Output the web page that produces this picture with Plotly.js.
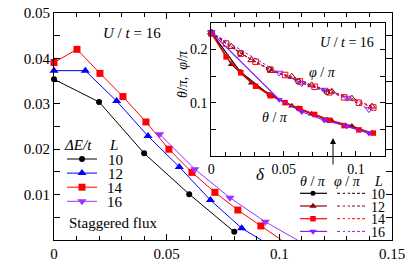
<!DOCTYPE html>
<html>
<head>
<meta charset="utf-8">
<script src="https://cdn.plot.ly/plotly-3.0.1.min.js"></script>
</head>
<body style="margin:0">
<div id="chart" style="width:412px;height:278px"></div>
<script>
// ---------- data: main panel (ΔE/t vs δ) ----------
const sizesL = [10, 12, 14, 16];
const mainDelta10 = [0, 0.02, 0.04, 0.06, 0.08];
const mainDE10    = [0.0354, 0.0304, 0.0191, 0.0101, 0.0018];
const mainDelta12 = [0, 0.0139, 0.0278, 0.0417, 0.0556, 0.0694, 0.0833];
const mainDE12    = [0.0373, 0.0373, 0.0306, 0.0229, 0.0161, 0.0088, 0.0026];
const mainDelta14 = [0, 0.0102, 0.0204, 0.0306, 0.0408, 0.0510, 0.0612, 0.0714, 0.0816, 0.0918];
const mainDE14    = [0.0391, 0.0420, 0.0367, 0.0316, 0.0260, 0.0200, 0.0149, 0.0105, 0.0066, 0.0031];
const mainDelta16 = [0.0469, 0.0625, 0.0781, 0.0938];
const mainDE16    = [0.0233, 0.0156, 0.0093, 0.0040];
// extrapolated zero crossing of the guide lines (null = none)
const zeroCross   = [null, 0.092, 0.101, 0.108];

// ---------- data: inset (θ/π and φ/π vs δ) ----------
const inDelta10 = [0, 0.02, 0.04, 0.06, 0.08];
const theta10   = [0.232, 0.158, 0.115, 0.0895, 0.068];
const phi10     = [0.232, 0.193, 0.163, 0.140, 0.120];
const inDelta12 = [0, 0.0139, 0.0278, 0.0417, 0.0556, 0.0694, 0.0833, 0.0972, 0.111];
const theta12   = [0.232, 0.172, 0.137, 0.114, 0.094, 0.079, 0.066, 0.056, 0.043];
const phi12     = [0.232, 0.205, 0.180, 0.160, 0.149, 0.133, 0.121, 0.108, 0.093];
const inDelta14 = [0, 0.0102, 0.0204, 0.0306, 0.0408, 0.0510, 0.0612, 0.0714, 0.0816, 0.0918, 0.102, 0.112];
const theta14   = [0.230, 0.186, 0.156, 0.131, 0.113, 0.100, 0.089, 0.078, 0.067, 0.057, 0.049, 0.043];
const phi14     = [0.230, 0.211, 0.192, 0.177, 0.162, 0.152, 0.140, 0.130, 0.1195, 0.110, 0.100, 0.091];
const inDelta16 = [0, 0.0469, 0.0625, 0.0781, 0.0938, 0.109];
const theta16   = [0.232, 0.106, 0.083, 0.067, 0.056, 0.0425];
const phi16     = [0.232, 0.156, 0.1365, 0.124, 0.109, 0.0876];

// ---------- styles ----------
const FONT = 'Liberation Serif';
const mainColors  = ['#000000', '#0000ff', '#ff0000', '#9933ff'];
const insetColors = ['#000000', '#8b0000', '#ff0000', '#8c1aff'];
const symbols     = ['circle', 'triangle-up', 'square', 'triangle-down'];
const openSymbols = ['circle-open', 'triangle-up-open', 'square-open', 'triangle-down-open'];
const mainSizes   = [6, 8, 7, 8];
const insetSizes  = [5, 6.5, 5.5, 6.5];

const mainX = [mainDelta10, mainDelta12, mainDelta14, mainDelta16];
const mainY = [mainDE10, mainDE12, mainDE14, mainDE16];
const inX   = [inDelta10, inDelta12, inDelta14, inDelta16];
const thY   = [theta10, theta12, theta14, theta16];
const phY   = [phi10, phi12, phi14, phi16];

const traces = [];
for (let i = 0; i < 4; i++) {
  if (zeroCross[i] !== null) {
    const n = mainX[i].length;
    traces.push({x: [mainX[i][n-1], zeroCross[i]], y: [mainY[i][n-1], 0], mode: 'lines',
      line: {color: mainColors[i], width: 1}, xaxis: 'x', yaxis: 'y', showlegend: false, hoverinfo: 'skip'});
  }
  traces.push({x: mainX[i], y: mainY[i], mode: 'lines+markers', xaxis: 'x', yaxis: 'y',
    line: {color: mainColors[i], width: 1},
    marker: {symbol: symbols[i], size: mainSizes[i], color: mainColors[i]},
    showlegend: false, cliponaxis: false});
}
for (let i = 0; i < 4; i++) {
  traces.push({x: inX[i], y: phY[i], mode: 'lines+markers', xaxis: 'x2', yaxis: 'y2',
    line: {color: insetColors[i], width: 1, dash: '3px,2px'},
    marker: {symbol: openSymbols[i], size: insetSizes[i], color: insetColors[i], line: {width: 1, color: insetColors[i]}},
    showlegend: false, cliponaxis: false});
}
for (let i = 0; i < 4; i++) {
  traces.push({x: inX[i], y: thY[i], mode: 'lines+markers', xaxis: 'x2', yaxis: 'y2',
    line: {color: insetColors[i], width: 1.2},
    marker: {symbol: symbols[i], size: insetSizes[i], color: insetColors[i]},
    showlegend: false, cliponaxis: false});
}

const annotations = [];
const txt = (x, y, text, size, extra) => Object.assign({xref: 'x3', yref: 'y3', x: x, y: y, text: text,
  showarrow: false, font: {family: FONT, size: size, color: '#000000'}}, extra || {});

// main legend
const mLeg = {x0: 67, x1: 97, xm: 82, xl: 115, y0: 159, dy: 14.1};
annotations.push(txt(78, 145, '<i>ΔE/t</i>', 15));
annotations.push(txt(113, 145, '<i>L</i>', 15));
for (let i = 0; i < 4; i++) {
  const y = mLeg.y0 + mLeg.dy * i;
  traces.push({x: [mLeg.x0, mLeg.x1], y: [y, y], mode: 'lines', xaxis: 'x3', yaxis: 'y3',
    line: {color: mainColors[i], width: 1}, showlegend: false, hoverinfo: 'skip', cliponaxis: false});
  traces.push({x: [mLeg.xm], y: [y], mode: 'markers', xaxis: 'x3', yaxis: 'y3',
    marker: {symbol: symbols[i], size: mainSizes[i], color: mainColors[i]}, showlegend: false, hoverinfo: 'skip', cliponaxis: false});
  annotations.push(txt(mLeg.xl, y + 1, String(sizesL[i]), 15));
}
annotations.push(txt(113, 223, 'Staggered flux', 15));

// inset legend
const iLeg = {s0: 300, s1: 327, sm: 313, d0: 337, d1: 366, dm: 345, xl: 378, y0: 193.3, dy: 12.7};
annotations.push(txt(313, 181, '<i>θ</i> / <i>π</i>', 14));
annotations.push(txt(347, 181, '<i>φ</i> / <i>π</i>', 14));
annotations.push(txt(378, 181, '<i>L</i>', 14));
for (let i = 0; i < 4; i++) {
  const y = iLeg.y0 + iLeg.dy * i;
  traces.push({x: [iLeg.s0, iLeg.s1], y: [y, y], mode: 'lines', xaxis: 'x3', yaxis: 'y3',
    line: {color: insetColors[i], width: 1.2}, showlegend: false, hoverinfo: 'skip', cliponaxis: false});
  traces.push({x: [iLeg.sm], y: [y], mode: 'markers', xaxis: 'x3', yaxis: 'y3',
    marker: {symbol: symbols[i], size: insetSizes[i], color: insetColors[i]}, showlegend: false, hoverinfo: 'skip', cliponaxis: false});
  traces.push({x: [iLeg.d0, iLeg.d1], y: [y, y], mode: 'lines', xaxis: 'x3', yaxis: 'y3',
    line: {color: insetColors[i], width: 1, dash: '3px,2px'}, showlegend: false, hoverinfo: 'skip', cliponaxis: false});
  traces.push({x: [iLeg.dm], y: [y], mode: 'markers', xaxis: 'x3', yaxis: 'y3',
    marker: {symbol: openSymbols[i], size: insetSizes[i], color: '#ffffff', line: {width: 1, color: insetColors[i]}},
    showlegend: false, hoverinfo: 'skip', cliponaxis: false});
  annotations.push(txt(iLeg.xl, y + 1, String(sizesL[i]), 14));
}

annotations.push(txt(13, 118, '<i>ΔE</i> / <i>t</i>', 15, {textangle: -90}));
annotations.push(txt(222, 265, '<i>δ</i>', 17));
annotations.push(txt(132, 33, '<i>U</i> / <i>t</i> = 16', 15));
annotations.push(txt(347, 42, '<i>U</i> / <i>t</i> = 16', 14));
annotations.push(txt(322, 72, '<i>φ</i> / <i>π</i>', 14));
annotations.push(txt(275, 117, '<i>θ</i> / <i>π</i>', 14));
annotations.push(txt(182, 74, '<i>θ</i>/<i>π</i>,  <i>φ</i>/<i>π</i>', 14, {textangle: -90}));
annotations.push(txt(260, 174, '<i>δ</i>', 17));
annotations.push({xref: 'x3', yref: 'y3', x: 333, y: 138, ax: 0, ay: 28, text: '', showarrow: true,
  arrowhead: 2, arrowsize: 1.2, arrowwidth: 1, arrowcolor: '#000000'});

function axis(extra) {
  return Object.assign({showline: true, linecolor: '#000000', linewidth: 1, mirror: 'ticks', ticks: 'inside',
    tickcolor: '#000000', showgrid: false, zeroline: false,
    tickfont: {family: FONT, size: 15, color: '#000000'}}, extra);
}

const layout = {
  width: 412, height: 278,
  margin: {l: 54, r: 20, t: 13, b: 38, pad: 0},
  paper_bgcolor: '#ffffff', plot_bgcolor: 'rgba(0,0,0,0)',
  showlegend: false,
  xaxis: axis({range: [0, 0.15], tickvals: [0, 0.05, 0.1, 0.15], ticktext: ['0', '0.05', '0.1', '0.15'],
    ticklen: 6, minor: {dtick: 0.01, ticklen: 4, ticks: 'inside', tickcolor: '#000000'}, anchor: 'y', domain: [0, 1]}),
  yaxis: axis({range: [0, 0.05], tickvals: [0, 0.01, 0.02, 0.03, 0.04, 0.05],
    ticktext: ['', '0.01', '0.02', '0.03', '0.04', '0.05'], ticklen: 6,
    minor: {dtick: 0.005, ticklen: 6, ticks: 'inside', tickcolor: '#000000'}, anchor: 'x', domain: [0, 1]}),
  xaxis2: axis({range: [0, 0.12], tickvals: [0, 0.05, 0.1], ticktext: ['0', '0.05', '0.1'],
    tickfont: {family: FONT, size: 14, color: '#000000'},
    ticklen: 5, minor: {dtick: 0.01, ticklen: 4, ticks: 'inside', tickcolor: '#000000'}, anchor: 'y2', domain: [0.4654, 0.979]}),
  yaxis2: axis({range: [0, 0.25], tickvals: [0, 0.1, 0.2], ticktext: ['', '0.1', '0.2'],
    tickfont: {family: FONT, size: 14, color: '#000000'},
    ticklen: 5, minor: {dtick: 0.05, ticklen: 5, ticks: 'inside', tickcolor: '#000000'}, anchor: 'x2', domain: [0.370, 0.957]}),
  xaxis3: {range: [54, 392], visible: false, anchor: 'y3', domain: [0, 1], fixedrange: true},
  yaxis3: {range: [240, 13], visible: false, anchor: 'x3', domain: [0, 1], fixedrange: true},
  annotations: annotations
};

Plotly.newPlot('chart', traces, layout, {displayModeBar: false});
</script>
</body>
</html>
